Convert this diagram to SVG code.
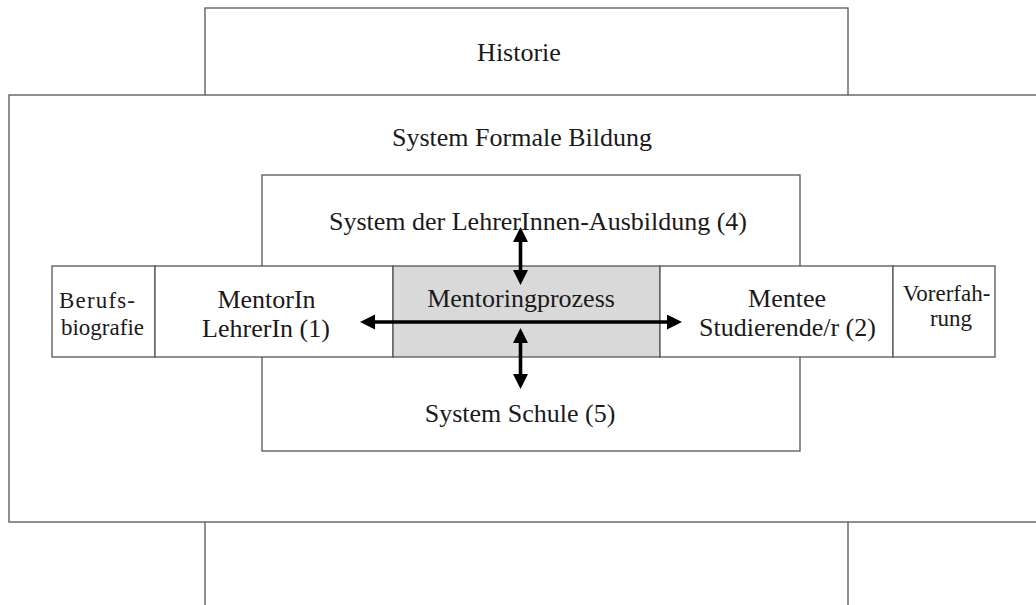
<svg xmlns="http://www.w3.org/2000/svg" width="1036" height="605" viewBox="0 0 1036 605">
  <style>
    .box { fill: #ffffff; stroke: #555555; stroke-width: 1.3; }
    .proc { fill: #d9d9d9; stroke: #555555; stroke-width: 1.3; }
    .lbl { font-family: "Liberation Serif", "Times New Roman", serif; font-size: 26px; fill: #1a1a1a; text-anchor: middle; }
    .small { font-size: 23px; }
    .arrow { stroke: #000000; stroke-width: 3.6; fill: none; marker-start: url(#head); marker-end: url(#head); }
  </style>
  <defs>
    <marker id="head" markerUnits="userSpaceOnUse" markerWidth="16" markerHeight="16" refX="0" refY="7.5" orient="auto-start-reverse">
      <path d="M0,0 L15,7.5 L0,15 Z" fill="#000000"/>
    </marker>
  </defs>

  <rect width="1036" height="605" fill="#ffffff"/>

  <!-- outer context: history -->
  <g id="historie">
    <rect class="box" x="205" y="8" width="643" height="700"/>
    <text class="lbl" x="519" y="61">Historie</text>
  </g>

  <!-- formal education system -->
  <g id="formale-bildung">
    <rect class="box" x="9" y="95" width="1100" height="427"/>
    <text class="lbl" x="522" y="146">System Formale Bildung</text>
  </g>

  <!-- teacher training and school systems -->
  <g id="lehrerausbildung">
    <rect class="box" x="262" y="175" width="538" height="276"/>
    <text class="lbl" x="538" y="230">System der LehrerInnen-Ausbildung (4)</text>
  </g>
  <g id="schule">
    <text class="lbl" x="520" y="422">System Schule (5)</text>
  </g>

  <!-- middle row -->
  <g id="berufsbiografie">
    <rect class="box" x="52" y="266" width="103" height="91"/>
    <text class="lbl small" x="97" y="308" textLength="76">Berufs-</text>
    <text class="lbl small" x="102.5" y="335">biografie</text>
  </g>
  <g id="mentor">
    <rect class="box" x="155" y="266" width="238" height="91"/>
    <text class="lbl" x="266.5" y="308">MentorIn</text>
    <text class="lbl" x="266" y="337">LehrerIn (1)</text>
  </g>
  <g id="mentoringprozess">
    <rect class="proc" x="393" y="266" width="267" height="91"/>
    <text class="lbl" x="521" y="307">Mentoringprozess</text>
  </g>
  <g id="mentee">
    <rect class="box" x="660" y="266" width="233" height="91"/>
    <text class="lbl" x="787" y="307">Mentee</text>
    <text class="lbl" x="787.5" y="336">Studierende/r (2)</text>
  </g>
  <g id="vorerfahrung">
    <rect class="box" x="893" y="266" width="102" height="91"/>
    <text class="lbl small" x="946.5" y="301">Vorerfah-</text>
    <text class="lbl small" x="951" y="326">rung</text>
  </g>

  <!-- connectors -->
  <g id="connectors">
    <path class="arrow" d="M375,322 H667"/>
    <path class="arrow" d="M520.5,242 V270"/>
    <path class="arrow" d="M520.5,343 V374"/>
  </g>
</svg>
